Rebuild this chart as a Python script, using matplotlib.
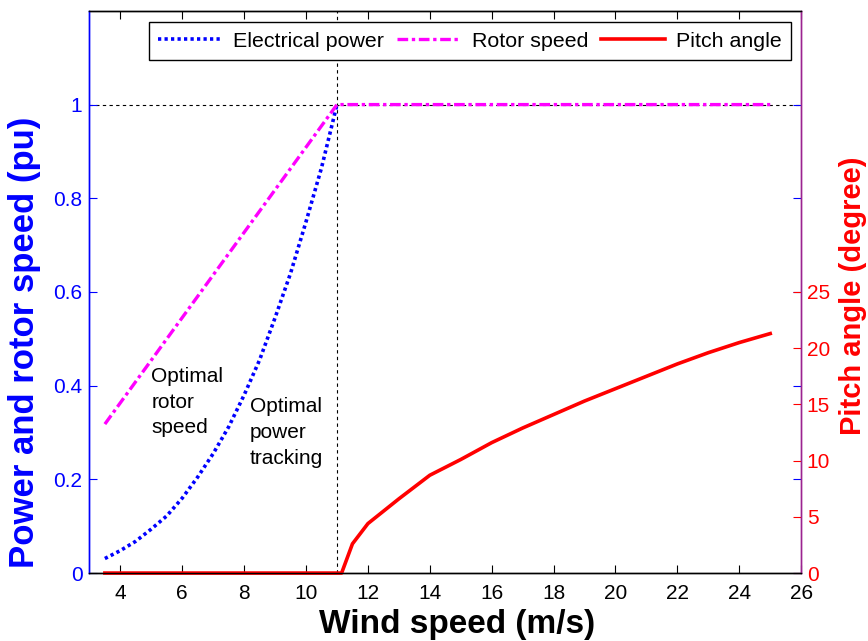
import numpy as np
import matplotlib.pyplot as plt

plt.rcParams['font.family'] = ['Liberation Sans', 'DejaVu Sans']

# wind speed (m/s) and per-unit values
wind_p = [3.5, 4, 4.5, 5, 5.5, 6, 6.5, 7, 7.5, 8, 8.5, 9, 9.5, 10, 10.5, 11]
power = [0.031, 0.048, 0.068, 0.094, 0.122, 0.160, 0.205, 0.255, 0.312, 0.380,
         0.455, 0.545, 0.640, 0.750, 0.865, 1.0]

wind_r = [3.5, 11, 25]
rotor = [0.318, 1.0, 1.0]

wind_b = [3.5, 11.15, 11.5, 12, 13, 14, 15, 16, 17, 18, 19, 20, 21, 22, 23, 24, 25]
pitch = [0, 0, 2.6, 4.4, 6.6, 8.7, 10.1, 11.6, 12.9, 14.1, 15.3, 16.4, 17.5,
         18.6, 19.6, 20.5, 21.3]

xticks = np.arange(4, 27, 2)
yticks_left = [0, 0.2, 0.4, 0.6, 0.8, 1]
yticks_right = [0, 5, 10, 15, 20, 25]

fig = plt.figure(figsize=(8.68, 6.41), dpi=100)
ax = fig.add_axes([0.103, 0.106, 0.82, 0.877])
ax2 = ax.twinx()

l1, = ax.plot(wind_p, power, color='blue', ls=(0, (0.9, 0.9)), lw=2.6, label='Electrical power')
l2, = ax.plot(wind_r, rotor, color='magenta', ls=(0, (3.2, 1.1, 1, 1.1)), lw=2.4, label='Rotor speed')
ax.axhline(1, color='black', ls=(0, (3, 3)), lw=0.8, zorder=1)
ax.axvline(11, color='black', ls=(0, (3, 3)), lw=0.8, zorder=1)

l3, = ax2.plot(wind_b, pitch, color='red', lw=2.6, label='Pitch angle', clip_on=False)

ax.set_xlim(3, 26)
ax.set_ylim(0, 1.2)
ax2.set_ylim(0, 50)
ax.set_xticks(xticks)
ax.set_yticks(yticks_left)
ax.set_yticklabels(['0', '0.2', '0.4', '0.6', '0.8', '1'])
ax2.set_yticks(yticks_right)

ax.tick_params(axis='x', direction='in', top=True, length=6, labelsize=15, pad=8, colors='black')
ax.tick_params(axis='y', direction='in', right=True, length=6, labelsize=15, pad=5,
               colors='blue')
ax2.tick_params(axis='y', direction='in', length=6, labelsize=15, pad=4, colors='red')

ax.spines['left'].set_color('blue')
ax2.spines['left'].set_color('blue')
ax.spines['right'].set_color('#9b2390')
ax2.spines['right'].set_color('#9b2390')
for s in ['left', 'right', 'top', 'bottom']:
    ax.spines[s].set_linewidth(1.0)
    ax2.spines[s].set_linewidth(1.0)

ax.set_xlabel('Wind speed (m/s)', fontsize=24, fontweight='bold')
ax.xaxis.set_label_coords(0.517, -0.064)
ax.set_ylabel('Power and rotor speed (pu)', fontsize=25, fontweight='bold', color='blue')
ax.yaxis.set_label_coords(-0.068, 0.41)
ax2.set_ylabel('Pitch angle (degree)', fontsize=21, fontweight='bold', color='red')
ax2.yaxis.set_label_coords(1.053, 0.494)

ax.text(5.0, 0.44, 'Optimal\nrotor\nspeed', fontsize=15, va='top', linespacing=1.45)
ax.text(8.19, 0.375, 'Optimal\npower\ntracking', fontsize=15, va='top', linespacing=1.45)

leg = ax2.legend(handles=[l1, l2, l3], loc='upper right', bbox_to_anchor=(0.986, 0.98),
                 ncol=3, fontsize=15.4, handlelength=3.0, handletextpad=0.5,
                 columnspacing=0.6, fancybox=False, framealpha=1, edgecolor='black',
                 borderpad=0.45, borderaxespad=0)
leg.get_frame().set_linewidth(1.0)

fig.savefig('out.png', dpi=100)
